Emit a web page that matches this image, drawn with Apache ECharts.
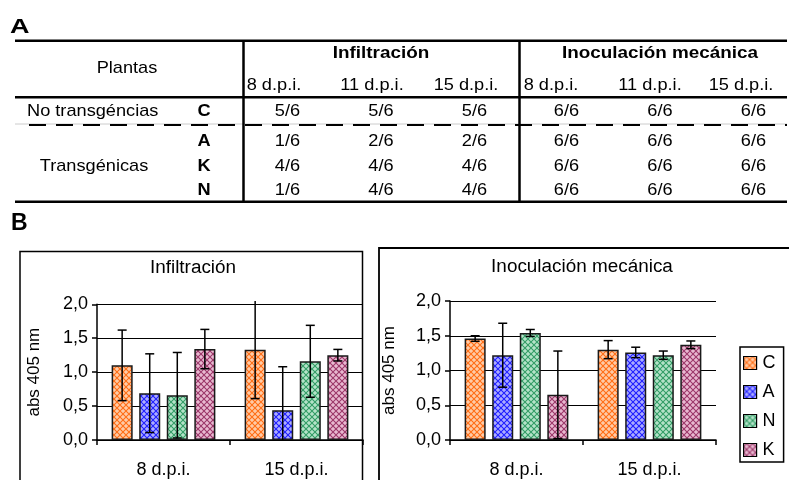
<!DOCTYPE html>
<html>
<head>
<meta charset="utf-8">
<script src="https://cdn.jsdelivr.net/npm/echarts@6/dist/echarts.min.js"></script>
<style>
  html, body { margin: 0; padding: 0; background: #fff; }
  #chart { width: 789px; height: 480px; }
</style>
</head>
<body>
<div id="chart"></div>
<script>
// ---- Panel A: infection scores ----
const timePoints = ['8 d.p.i.', '11 d.p.i.', '15 d.p.i.'];
const plantLines = ['C', 'A', 'K', 'N'];
const infiltracionScores = [
  ['5/6', '5/6', '5/6'],
  ['1/6', '2/6', '2/6'],
  ['4/6', '4/6', '4/6'],
  ['1/6', '4/6', '4/6']
];
const mecanicaScores = [
  ['6/6', '6/6', '6/6'],
  ['6/6', '6/6', '6/6'],
  ['6/6', '6/6', '6/6'],
  ['6/6', '6/6', '6/6']
];

// ---- Panel B: ELISA absorbance (mean and error) ----
const categories = ['8 d.p.i.', '15 d.p.i.'];
const seriesNames = ['C', 'A', 'N', 'K'];
const yTicks = [0, 0.5, 1.0, 1.5, 2.0];

const infMeanC = [1.10, 1.33];
const infMeanA = [0.69, 0.44];
const infMeanN = [0.66, 1.16];
const infMeanK = [1.34, 1.25];
const infErrC = [0.52, 0.72];
const infErrA = [0.58, 0.64];
const infErrN = [0.63, 0.53];
const infErrK = [0.29, 0.085];

const mecMeanC = [1.46, 1.30];
const mecMeanA = [1.22, 1.26];
const mecMeanN = [1.54, 1.22];
const mecMeanK = [0.65, 1.37];
const mecErrC = [0.04, 0.13];
const mecErrA = [0.46, 0.075];
const mecErrN = [0.05, 0.06];
const mecErrK = [0.63, 0.055];

const FONT = '"Liberation Sans", Arial, Helvetica, sans-serif';
const CAT_GAP = 0.22;
const BAR_GAP = 0.31;

// Checkered fills for the bars
function makePattern(base, light) {
  const c = document.createElement('canvas');
  c.width = 6; c.height = 6;
  const g = c.getContext('2d');
  g.fillStyle = base;
  g.fillRect(0, 0, 6, 6);
  g.fillStyle = light;
  const diamond = (cx, cy, r) => {
    g.beginPath();
    g.moveTo(cx, cy - r); g.lineTo(cx + r, cy); g.lineTo(cx, cy + r); g.lineTo(cx - r, cy);
    g.closePath(); g.fill();
  };
  diamond(3, 3, 2.3);
  diamond(0, 0, 2.3); diamond(6, 0, 2.3); diamond(0, 6, 2.3); diamond(6, 6, 2.3);
  return { image: c, repeat: 'repeat' };
}
const fills = {
  C: makePattern('#ff6a10', '#ffcba6'),
  A: makePattern('#1a1aff', '#acacff'),
  N: makePattern('#2e9a62', '#b4e2c8'),
  K: makePattern('#993366', '#e8b8d0')
};

const infMeans = { C: infMeanC, A: infMeanA, N: infMeanN, K: infMeanK };
const infErrs = { C: infErrC, A: infErrA, N: infErrN, K: infErrK };
const mecMeans = { C: mecMeanC, A: mecMeanA, N: mecMeanN, K: mecMeanK };
const mecErrs = { C: mecErrC, A: mecErrA, N: mecErrN, K: mecErrK };

function barSeries(gridIdx, means) {
  return seriesNames.map(name => ({
    type: 'bar',
    name: name,
    xAxisIndex: gridIdx,
    yAxisIndex: gridIdx,
    data: means[name],
    barGap: (BAR_GAP * 100) + '%',
    barCategoryGap: (CAT_GAP * 100) + '%',
    itemStyle: { color: fills[name], borderColor: '#1a1a1a', borderWidth: 1.5 },
    emphasis: { disabled: true },
    z: 2
  }));
}

function errorSeries(gridIdx, means, errs, yMax) {
  const data = [];
  seriesNames.forEach((name, k) => {
    means[name].forEach((m, i) => data.push([i, m, errs[name][i], k]));
  });
  return {
    type: 'custom',
    xAxisIndex: gridIdx,
    yAxisIndex: gridIdx,
    data: data,
    clip: false,
    z: 5,
    silent: true,
    renderItem: function (params, api) {
      const cat = api.value(0), mean = api.value(1), err = api.value(2), k = api.value(3);
      const catW = api.size([1, 0])[0];
      const groupW = catW * (1 - CAT_GAP);
      const barW = groupW / (4 + 3 * BAR_GAP);
      const cx = api.coord([cat, 0])[0] - groupW / 2 + barW / 2 + k * barW * (1 + BAR_GAP);
      const hi = mean + err;
      const lo = Math.max(0, mean - err);
      const yHi = api.coord([cat, hi])[1];
      const yLo = api.coord([cat, lo])[1];
      const st = { stroke: '#000', lineWidth: 1.5 };
      const cap = 4.5;
      const children = [{ type: 'line', shape: { x1: cx, y1: yHi, x2: cx, y2: yLo }, style: st }];
      if (hi <= yMax) children.push({ type: 'line', shape: { x1: cx - cap, y1: yHi, x2: cx + cap, y2: yHi }, style: st });
      if (mean - err > 0) children.push({ type: 'line', shape: { x1: cx - cap, y1: yLo, x2: cx + cap, y2: yLo }, style: st });
      return { type: 'group', children: children };
    }
  };
}

function xAxis(gridIdx) {
  return {
    type: 'category',
    gridIndex: gridIdx,
    data: categories,
    axisLine: { lineStyle: { color: '#000', width: 1.5 } },
    axisTick: { show: true, length: 5, lineStyle: { color: '#000', width: 1.5 } },
    axisLabel: { color: '#000', fontSize: 18, fontFamily: FONT, margin: 21 }
  };
}
function yAxis(gridIdx, gap) {
  return {
    type: 'value',
    gridIndex: gridIdx,
    min: yTicks[0],
    max: yTicks[yTicks.length - 1],
    interval: 0.5,
    name: 'abs 405 nm',
    nameLocation: 'middle',
    nameGap: gap,
    nameTextStyle: { color: '#000', fontSize: 17, fontFamily: FONT },
    axisLine: { show: true, lineStyle: { color: '#000', width: 1.5 } },
    axisTick: { show: true, length: 5, lineStyle: { color: '#000', width: 1.5 } },
    axisLabel: {
      color: '#000', fontSize: 18, fontFamily: FONT, margin: 9,
      formatter: v => v.toFixed(1).replace('.', ',')
    },
    splitLine: { show: true, lineStyle: { color: '#000', width: 1.2 } }
  };
}

// ---- Table graphics ----
function txt(x, y, s, opts) {
  opts = opts || {};
  const align = opts.align || 'center';
  return {
    type: 'text', x: x, y: y, z: 10, silent: true,
    scaleX: opts.scaleX || 1.07,
    style: {
      text: s,
      fill: '#000',
      font: (opts.weight || 'normal') + ' ' + (opts.size || 17) + 'px ' + FONT,
      align: align, verticalAlign: 'middle',
      textAlign: align, textVerticalAlign: 'middle'
    }
  };
}
function hline(x1, x2, y, w, dash) {
  const style = { stroke: '#000', lineWidth: w };
  if (dash) style.lineDash = dash;
  return { type: 'line', z: 10, silent: true, shape: { x1: x1, y1: y, x2: x2, y2: y }, style: style };
}
function vline(x, y1, y2, w) {
  return { type: 'line', z: 10, silent: true, shape: { x1: x, y1: y1, x2: x, y2: y2 }, style: { stroke: '#000', lineWidth: w } };
}

const graphics = [];
// panel letters
graphics.push(txt(10, 27, 'A', { weight: 'bold', size: 20, align: 'left', scaleX: 1.35 }));
graphics.push(txt(11, 224, 'B', { weight: 'bold', size: 23, align: 'left', scaleX: 1.0 }));

// table rules
graphics.push(hline(15, 787, 40.7, 2.5));
graphics.push(hline(15, 787, 97.3, 2.5));
graphics.push(hline(15, 787, 124, 1, null));
graphics[graphics.length - 1].style.stroke = '#cccccc';
graphics.push(hline(29, 787, 125, 2, [17, 10]));
graphics.push(hline(15, 787, 201.7, 2.5));
graphics.push(vline(243.5, 40, 202, 2.5));
graphics.push(vline(519.5, 40, 202, 2.5));

// table headers
graphics.push(txt(127, 68, 'Plantas'));
graphics.push(txt(381, 53, 'Infiltración', { weight: 'bold', scaleX: 1.11 }));
graphics.push(txt(660, 53, 'Inoculación mecánica', { weight: 'bold', scaleX: 1.11 }));
const infHeadX = [274, 372, 466];
const mecHeadX = [551, 650, 741];
timePoints.forEach((t, i) => {
  graphics.push(txt(infHeadX[i], 85, t));
  graphics.push(txt(mecHeadX[i], 85, t));
});

// table body
const rowY = [111.7, 141.7, 166.7, 190];
const infColX = [287.5, 381, 474.5];
const mecColX = [566.5, 660, 753.5];
graphics.push(txt(27, rowY[0], 'No transgéncias', { align: 'left' }));
graphics.push(txt(94, rowY[2], 'Transgénicas'));
plantLines.forEach((p, r) => {
  graphics.push(txt(204, rowY[r], p, { weight: 'bold' }));
  infiltracionScores[r].forEach((s, c) => graphics.push(txt(infColX[c], rowY[r], s)));
  mecanicaScores[r].forEach((s, c) => graphics.push(txt(mecColX[c], rowY[r], s)));
});

// chart frames and titles
graphics.push({ type: 'rect', z: 1, silent: true, shape: { x: 20, y: 251.5, width: 342.5, height: 240 },
  style: { fill: 'none', stroke: '#000', lineWidth: 1.5 } });
graphics.push({ type: 'rect', z: 1, silent: true, shape: { x: 379, y: 248, width: 420, height: 240 },
  style: { fill: 'none', stroke: '#000', lineWidth: 1.8 } });
graphics.push(txt(193, 268, 'Infiltración', { size: 18, scaleX: 1.05 }));
graphics.push(txt(582, 267, 'Inoculación mecánica', { size: 18, scaleX: 1.05 }));

const chart = echarts.init(document.getElementById('chart'), null, { renderer: 'canvas' });
chart.setOption({
  animation: false,
  backgroundColor: '#fff',
  textStyle: { fontFamily: FONT },
  grid: [
    { left: 97, top: 304.3, width: 266, height: 135.7 },
    { left: 450, top: 301, width: 266, height: 139 }
  ],
  xAxis: [xAxis(0), xAxis(1)],
  yAxis: [yAxis(0, 54), yAxis(1, 52)],
  legend: {
    data: seriesNames,
    orient: 'vertical',
    left: 740,
    top: 347,
    padding: [7, 8, 3, 3],
    itemWidth: 13,
    itemHeight: 13,
    itemGap: 11,
    icon: 'rect',
    borderColor: '#000',
    borderWidth: 1.5,
    selectedMode: false,
    itemStyle: { borderColor: '#000', borderWidth: 1.2 },
    textStyle: { color: '#000', fontSize: 18, fontFamily: FONT, padding: [0, 0, 0, 1] }
  },
  series: [].concat(
    barSeries(0, infMeans),
    [errorSeries(0, infMeans, infErrs, 2.0)],
    barSeries(1, mecMeans),
    [errorSeries(1, mecMeans, mecErrs, 2.0)]
  ),
  graphic: { elements: graphics }
});
</script>
</body>
</html>
